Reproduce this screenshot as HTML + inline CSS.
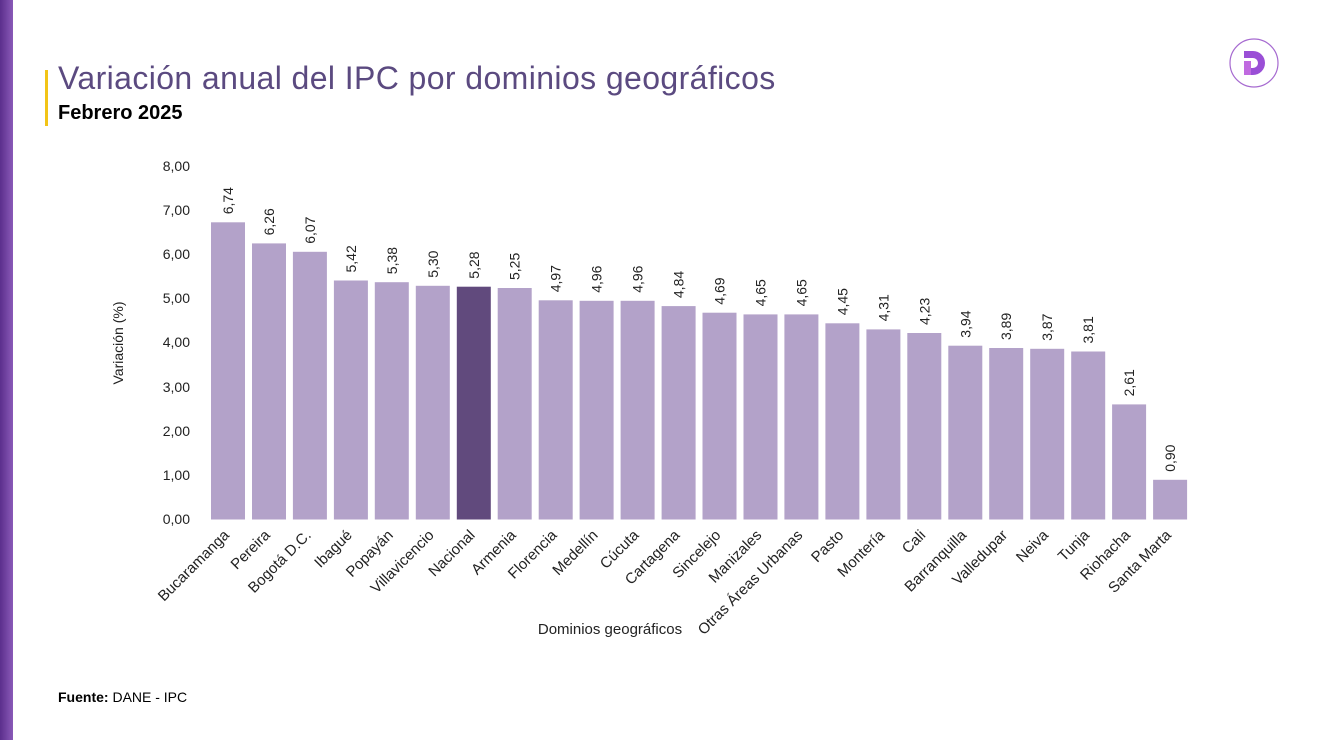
<!DOCTYPE html>
<html><head><meta charset="utf-8"><style>
body{margin:0;width:1320px;height:740px;background:#fff;overflow:hidden;font-family:"Liberation Sans",sans-serif;position:relative}
.strip{position:absolute;left:0;top:0;width:13px;height:740px;background:linear-gradient(90deg,#5b2e8c,#8a5ab8)}
.yb{position:absolute;left:45px;top:70px;width:3px;height:56px;background:#f2c417}
.t{position:absolute;left:58px;top:60px;font-size:32px;color:#5b4a80;white-space:nowrap;letter-spacing:0.4px}
.s{position:absolute;left:58px;top:102px;font-size:20px;font-weight:bold;color:#000}
.f{position:absolute;left:58px;top:689px;font-size:14px;color:#000}
</style></head><body>
<div class="strip"></div><div class="yb"></div>
<div class="t">Variación anual del IPC por dominios geográficos</div>
<div class="s">Febrero 2025</div>
<div class="f"><b>Fuente:</b> DANE - IPC</div>
<svg width="1320" height="740" style="position:absolute;left:0;top:0" font-family="Liberation Sans, sans-serif">
<circle cx="1254" cy="63" r="24" fill="none" stroke="#a66ad0" stroke-width="1.2"/>
<path d="M1244 51h9a12 12 0 0 1 0 24h-9v-7h9a5 5 0 0 0 0-10h-9z" fill="#9a4fd6"/>
<rect x="1244" y="61" width="7" height="14" fill="#c06ae0"/>
<g font-size="14" fill="#222" text-anchor="end">
<text x="190" y="524">0,00</text><text x="190" y="480">1,00</text><text x="190" y="436">2,00</text><text x="190" y="392">3,00</text><text x="190" y="347">4,00</text><text x="190" y="303">5,00</text><text x="190" y="259">6,00</text><text x="190" y="215">7,00</text><text x="190" y="171">8,00</text>
</g>
<text transform="translate(123,343) rotate(-90)" text-anchor="middle" font-size="14" fill="#222">Variación (%)</text>
<text x="610" y="634" text-anchor="middle" font-size="15" fill="#222">Dominios geográficos</text>
<g id="bars"></g>
</svg>
<script>
var d=[["Bucaramanga",6.74],["Pereira",6.26],["Bogotá D.C.",6.07],["Ibagué",5.42],["Popayán",5.38],["Villavicencio",5.30],["Nacional",5.28],["Armenia",5.25],["Florencia",4.97],["Medellín",4.96],["Cúcuta",4.96],["Cartagena",4.84],["Sincelejo",4.69],["Manizales",4.65],["Otras Áreas Urbanas",4.65],["Pasto",4.45],["Montería",4.31],["Cali",4.23],["Barranquilla",3.94],["Valledupar",3.89],["Neiva",3.87],["Tunja",3.81],["Riohacha",2.61],["Santa Marta",0.90]];
var g=document.getElementById('bars'),s='';
d.forEach(function(e,i){var x=211+i*40.96,h=e[1]*44.1,y=519.5-h,c=x+17;
s+='<rect x="'+x.toFixed(1)+'" y="'+y.toFixed(1)+'" width="34" height="'+h.toFixed(1)+'" fill="'+(e[0]=="Nacional"?"#614a7d":"#b3a2c9")+'"/>';
s+='<text transform="translate('+(c+5)+','+(y-8).toFixed(1)+') rotate(-90)" font-size="14" fill="#222">'+e[1].toFixed(2).replace('.',',')+'</text>';
s+='<text transform="translate('+(c+2)+',536) rotate(-45)" text-anchor="end" font-size="15" fill="#222">'+e[0]+'</text>';});
g.innerHTML=s;
</script>
</body></html>
